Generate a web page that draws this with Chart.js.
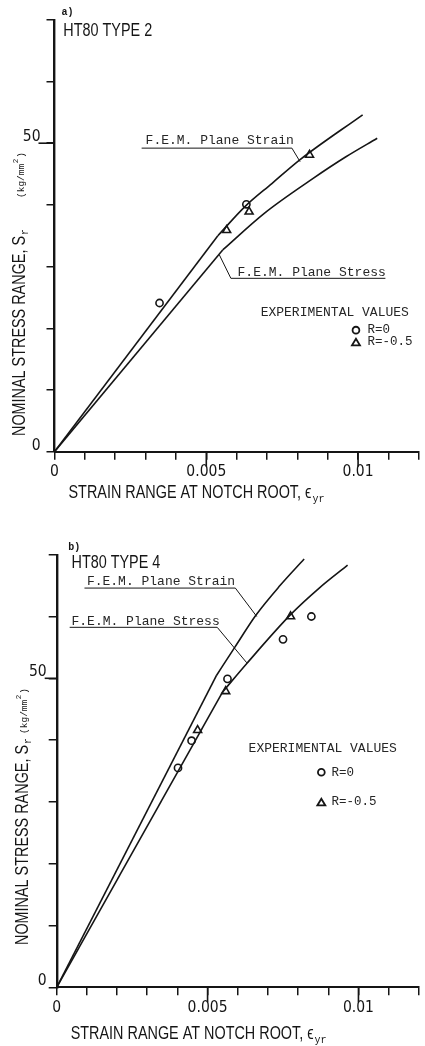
<!DOCTYPE html>
<html>
<head>
<meta charset="utf-8">
<script src="https://cdn.jsdelivr.net/npm/chart.js@4.4.1/dist/chart.umd.min.js"></script>
<style>
  html, body { margin: 0; padding: 0; background: #fff; width: 425px; height: 1046px; overflow: hidden; }
  canvas { position: absolute; left: 0; }
  #type2 { top: 0; }
  #type4 { top: 520px; }
</style>
</head>
<body>
<canvas id="type2" width="425" height="520"></canvas>
<canvas id="type4" width="425" height="526"></canvas>
<script>
// Axis ticks: strain range at notch root (x) and nominal stress range in kg/mm² (y)
const xTickValues = [0, 0.001, 0.002, 0.003, 0.004, 0.005, 0.006, 0.007, 0.008, 0.009, 0.010, 0.011, 0.012];
const xTickLabels = ['0', '', '', '', '', '0.005', '', '', '', '', '0.01', '', ''];
const yTickValues = [0, 10, 20, 30, 40, 50, 60, 70];
const yTickLabels = ['0', '', '', '', '', '50', '', ''];

// HT80 TYPE 2 — F.E.M. curves (origin, end of the elastic line, then the bending part)
const t2StrainX = [0, 0.00538, 0.00629, 0.00717, 0.00808, 0.01015];
const t2StrainY = [0, 35.0, 39.8, 43.5, 47.3, 54.6];
const t2StressX = [0, 0.00554, 0.0069, 0.00852, 0.0096, 0.01063];
const t2StressY = [0, 32.7, 38.6, 44.3, 47.8, 50.8];
// HT80 TYPE 2 — experimental values
const t2R0X = [0.00346, 0.00632];
const t2R0Y = [24.1, 40.1];
const t2RmX = [0.00567, 0.00641, 0.0084];
const t2RmY = [35.9, 38.9, 48.1];

// HT80 TYPE 4 — F.E.M. curves
const t4StrainX = [0, 0.0053, 0.0059, 0.0066, 0.0074, 0.0082];
const t4StrainY = [0, 50.5, 55.0, 60.2, 65.0, 69.3];
const t4StressX = [0, 0.0055, 0.0063, 0.00775, 0.0087, 0.00964];
const t4StressY = [0, 47.8, 52.4, 60.3, 64.6, 68.3];
// HT80 TYPE 4 — experimental values
const t4R0X = [0.00402, 0.00447, 0.00566, 0.0075, 0.00844];
const t4R0Y = [35.5, 39.9, 49.9, 56.3, 60.0];
const t4RmX = [0.00467, 0.0056, 0.00775];
const t4RmY = [41.6, 47.9, 60.0];

const INK = '#151515';
const SANS = "'Liberation Sans', Arial, sans-serif";
const TICK_FONT = "'DejaVu Sans Condensed', 'Liberation Sans', sans-serif";
const MONO = "'Liberation Mono', 'DejaVu Sans Mono', monospace";
const NARROW = 0.8;   // horizontal squeeze for the typeset captions

function pts(xs, ys) { return xs.map((x, i) => ({ x: x, y: ys[i] })); }

// text drawn horizontally condensed; returns its advance width
function narrowText(ctx, text, x, y) {
  ctx.save();
  ctx.translate(x, y);
  ctx.scale(NARROW, 1);
  ctx.fillText(text, 0, 0);
  const w = ctx.measureText(text).width * NARROW;
  ctx.restore();
  return w;
}

function drawTriangle(ctx, x, y, r) {
  ctx.beginPath();
  ctx.moveTo(x, y - r);
  ctx.lineTo(x + r * 0.95, y + r * 0.6);
  ctx.lineTo(x - r * 0.95, y + r * 0.6);
  ctx.closePath();
  ctx.stroke();
}

// Draws panel title, curve callouts, legend, longer major ticks and axis titles
function drawNotes(chart, n) {
  const ctx = chart.ctx, sx = chart.scales.x, sy = chart.scales.y, a = chart.chartArea;
  const P = (x, y) => [sx.getPixelForValue(x), sy.getPixelForValue(y)];
  ctx.save();
  ctx.fillStyle = INK;
  ctx.strokeStyle = INK;

  // longer major tick marks
  ctx.lineWidth = 1.6;
  n.majorX.forEach(v => {
    const x = sx.getPixelForValue(v);
    ctx.beginPath(); ctx.moveTo(x, a.bottom); ctx.lineTo(x, a.bottom + n.majorLen); ctx.stroke();
  });
  n.majorY.forEach(v => {
    const y = sy.getPixelForValue(v);
    ctx.beginPath(); ctx.moveTo(a.left, y); ctx.lineTo(a.left - n.majorLenY, y); ctx.stroke();
  });

  // panel letter and title
  ctx.textAlign = 'left';
  ctx.textBaseline = 'middle';
  ctx.font = 'bold 10px ' + MONO;
  let p = P(n.letter.x, n.letter.y);
  ctx.fillText(n.letter.text, p[0], p[1]);
  ctx.font = '18px ' + SANS;
  p = P(n.title.x, n.title.y);
  narrowText(ctx, n.title.text, p[0], p[1]);

  // curve callouts with leader lines
  ctx.font = '13px ' + MONO;
  ctx.fillStyle = '#262626';
  ctx.lineWidth = 1;
  n.callouts.forEach(c => {
    const t = P(c.x, c.y);
    ctx.fillText(c.text, t[0], t[1]);
    ctx.beginPath();
    c.leader.forEach((q, i) => {
      const r = P(q[0], q[1]);
      if (i === 0) ctx.moveTo(r[0], r[1]); else ctx.lineTo(r[0], r[1]);
    });
    ctx.stroke();
  });

  // legend of experimental values
  p = P(n.legend.x, n.legend.y);
  ctx.fillText('EXPERIMENTAL VALUES', p[0], p[1]);
  ctx.lineWidth = 1.8;
  ctx.strokeStyle = INK;
  p = P(n.legend.markX, n.legend.r0Y);
  ctx.beginPath(); ctx.arc(p[0], p[1], 3.4, 0, Math.PI * 2); ctx.stroke();
  let t = P(n.legend.textX, n.legend.r0Y);
  ctx.font = '12.5px ' + MONO;
  ctx.fillText('R=0', t[0], t[1]);
  p = P(n.legend.markX, n.legend.rmY);
  drawTriangle(ctx, p[0], p[1] + 1, 4.2);
  t = P(n.legend.textX, n.legend.rmY);
  ctx.fillText('R=-0.5', t[0], t[1]);

  // x axis title
  ctx.fillStyle = INK;
  ctx.textBaseline = 'alphabetic';
  ctx.font = '18px ' + SANS;
  const bx = a.left + n.xTitle.dx, by = a.bottom + n.xTitle.dy;
  const w1 = narrowText(ctx, 'STRAIN RANGE AT NOTCH ROOT, \u03F5', bx, by);
  ctx.font = '10px ' + MONO;
  ctx.fillText('yr', bx + w1 + 1, by + 4);

  // y axis title, rotated
  ctx.save();
  ctx.translate(n.yTitle.x, n.yTitle.y0);
  ctx.rotate(-Math.PI / 2);
  ctx.font = '18px ' + SANS;
  const w2 = narrowText(ctx, 'NOMINAL STRESS RANGE, S', 0, 0);
  ctx.font = '10px ' + MONO;
  ctx.fillText('r', w2 + 1, 3);
  const rEnd = w2 + 1 + ctx.measureText('r').width;
  const u0 = n.yTitle.unitsY != null ? n.yTitle.y0 - n.yTitle.unitsY : rEnd + n.yTitle.gap;
  ctx.font = '9.5px ' + MONO;
  const ut = '(kg/mm';
  ctx.fillText(ut, u0, -1);
  const w3 = ctx.measureText(ut).width;
  ctx.font = '7.5px ' + MONO;
  ctx.fillText('2', u0 + w3 + 0.5, -7);
  ctx.font = '9.5px ' + MONO;
  ctx.fillText(')', u0 + w3 + 6, -1);
  ctx.restore();

  ctx.restore();
}

function makeChart(id, d, geom, notes) {
  const INTERP = 'monotone';
  // elastic part: straight line from the origin to the knee
  const straightDs = (label, xs, ys) => ({
    label: label, data: pts(xs.slice(0, 2), ys.slice(0, 2)), showLine: true, fill: false,
    borderColor: INK, borderWidth: 1.6, pointRadius: 0, tension: 0
  });
  // plastic part: smooth curve from the knee onwards
  const bendDs = (label, xs, ys) => ({
    label: label, data: pts(xs.slice(1), ys.slice(1)), showLine: true, fill: false,
    borderColor: INK, borderWidth: 1.6, pointRadius: 0, cubicInterpolationMode: INTERP
  });
  const pointDs = (label, xs, ys, style, r) => ({
    label: label, data: pts(xs, ys), showLine: false,
    pointStyle: style, pointRadius: r, pointBorderWidth: 1.6,
    pointBorderColor: INK, pointBackgroundColor: 'rgba(255,255,255,0)'
  });
  const grid = { display: true, drawOnChartArea: false, drawTicks: true, tickLength: 8, color: INK, lineWidth: 1.5 };
  return new Chart(document.getElementById(id), {
    type: 'scatter',
    data: {
      datasets: [
        straightDs('F.E.M. Plane Strain', d.strainX, d.strainY),
        bendDs('F.E.M. Plane Strain', d.strainX, d.strainY),
        straightDs('F.E.M. Plane Stress', d.stressX, d.stressY),
        bendDs('F.E.M. Plane Stress', d.stressX, d.stressY),
        pointDs('R=0', d.r0X, d.r0Y, 'circle', 3.6),
        pointDs('R=-0.5', d.rmX, d.rmY, 'triangle', 4.6)
      ]
    },
    options: {
      responsive: false,
      animation: false,
      devicePixelRatio: 1,
      events: [],
      layout: { padding: { left: 0, right: geom.padRight, top: geom.padTop, bottom: 0 } },
      plugins: { legend: { display: false }, tooltip: { enabled: false } },
      scales: {
        x: {
          type: 'linear', min: 0, max: 0.012,
          afterFit: s => { s.height = geom.xAxisHeight; },
          afterBuildTicks: s => { s.ticks = xTickValues.map(v => ({ value: v })); },
          grid: grid,
          border: { display: true, color: INK, width: 2 },
          ticks: {
            autoSkip: false, maxRotation: 0, minRotation: 0, padding: 3, color: INK,
            font: { family: TICK_FONT, size: 15.5 },
            callback: (v, i) => xTickLabels[i]
          }
        },
        y: {
          type: 'linear', min: 0, max: 70,
          afterFit: s => { s.width = geom.yAxisWidth; },
          afterBuildTicks: s => { s.ticks = yTickValues.map(v => ({ value: v })); },
          grid: grid,
          border: { display: true, color: INK, width: 2.4 },
          ticks: {
            autoSkip: false, padding: geom.yPad, labelOffset: -6, color: INK,
            font: { family: TICK_FONT, size: 15.5 },
            callback: (v, i) => yTickLabels[i]
          }
        }
      }
    },
    plugins: [{ id: 'notes', afterDraw: chart => drawNotes(chart, notes) }]
  });
}

makeChart('type2',
  { strainX: t2StrainX, strainY: t2StrainY, stressX: t2StressX, stressY: t2StressY,
    r0X: t2R0X, r0Y: t2R0Y, rmX: t2RmX, rmY: t2RmY },
  { padTop: 19.8, padRight: 1, yAxisWidth: 54.5, xAxisHeight: 68.3, yPad: 6 },
  {
    majorX: [0.005, 0.01], majorLen: 15, majorY: [50], majorLenY: 16,
    letter: { text: 'a)', x: 0.00023, y: 71.2 },
    title: { text: 'HT80 TYPE 2', x: 0.00029, y: 68.1 },
    callouts: [
      { text: 'F.E.M. Plane Strain', x: 0.0030, y: 50.4,
        leader: [[0.00287, 49.2], [0.00782, 49.2], [0.00809, 47.0]] },
      { text: 'F.E.M. Plane Stress', x: 0.00603, y: 29.1,
        leader: [[0.0109, 28.1], [0.00581, 28.1], [0.00543, 31.9]] }
    ],
    legend: { x: 0.00679, y: 22.5, markX: 0.00993, textX: 0.01031, r0Y: 19.7, rmY: 17.8 },
    xTitle: { dx: 14, dy: 46.5 },
    yTitle: { x: 24.5, y0: 436, unitsY: 198 }
  });

makeChart('type4',
  { strainX: t4StrainX, strainY: t4StrainY, stressX: t4StressX, stressY: t4StressY,
    r0X: t4R0X, r0Y: t4R0Y, rmX: t4RmX, rmY: t4RmY },
  { padTop: 34.7, padRight: 0, yAxisWidth: 56.7, xAxisHeight: 58.7, yPad: 2 },
  {
    majorX: [0.005, 0.01], majorLen: 15, majorY: [50], majorLenY: 12,
    letter: { text: 'b)', x: 0.00038, y: 71.1 },
    title: { text: 'HT80 TYPE 4', x: 0.00049, y: 68.6 },
    callouts: [
      { text: 'F.E.M. Plane Strain', x: 0.0010, y: 65.6,
        leader: [[0.00092, 64.6], [0.00592, 64.6], [0.00663, 60.0]] },
      { text: 'F.E.M. Plane Stress', x: 0.00049, y: 59.2,
        leader: [[0.00043, 58.25], [0.00532, 58.25], [0.0063, 52.5]] }
    ],
    legend: { x: 0.00636, y: 38.7, markX: 0.00877, textX: 0.00911, r0Y: 34.8, rmY: 30.0 },
    xTitle: { dx: 14, dy: 51.5 },
    yTitle: { x: 28, y0: 425, unitsY: null, gap: 4 }
  });
</script>
</body>
</html>
